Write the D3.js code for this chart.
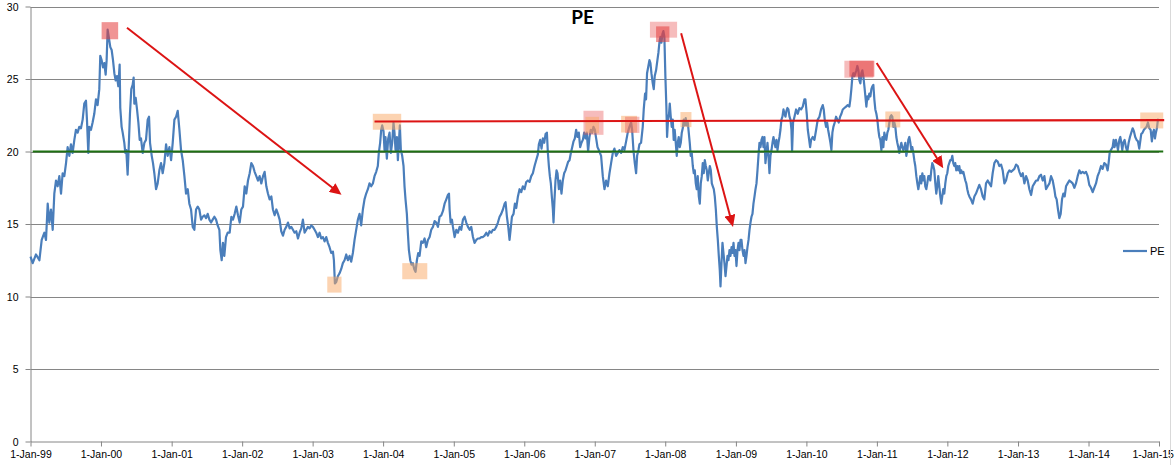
<!DOCTYPE html>
<html><head><meta charset="utf-8">
<script src="https://cdn.jsdelivr.net/npm/d3@7/dist/d3.min.js"></script>
<style>
html,body{margin:0;padding:0;background:#fff;}
svg{display:block;}
.axis text{font-family:"Liberation Sans",Arial,sans-serif;font-size:10.5px;fill:#000;}
</style></head>
<body>
<svg id="chart" width="1175" height="465"></svg>
<script>
// ---------- DATA ----------
const baseYear = 1999;
const chartTitle = "PE";
const seriesName = "PE";
const yTicks = [0, 5, 10, 15, 20, 25, 30];
const tickYears = [1999,2000,2001,2002,2003,2004,2005,2006,2007,2008,2009,2010,2011,2012,2013,2014,2015];
// [years since 1-Jan-1999, PE]
const peSeries = [
[0.000,12.75],[0.031,12.3],[0.078,12.9],[0.126,12.5],[0.159,13.9],[0.197,14.4],[0.220,13.9],[0.244,16.4],[0.267,15.1],[0.291,16.0],
[0.315,14.6],[0.338,17.1],[0.362,18.0],[0.385,17.6],[0.409,18.3],[0.433,17.1],[0.456,18.5],[0.480,18.3],[0.504,19.2],[0.527,20.3],
[0.551,19.7],[0.574,20.5],[0.598,19.9],[0.622,20.8],[0.645,21.5],[0.669,21.3],[0.692,21.7],[0.716,21.6],[0.740,22.2],[0.763,23.3],
[0.787,23.5],[0.801,22.2],[0.820,19.9],[0.834,21.7],[0.858,21.5],[0.881,22.0],[0.905,22.6],[0.929,23.6],[0.952,23.2],[0.976,24.3],
[0.990,26.6],[1.009,26.3],[1.028,25.8],[1.047,26.1],[1.066,25.3],[1.080,26.3],[1.094,28.4],[1.113,27.8],[1.132,27.2],[1.151,27.0],
[1.170,26.3],[1.189,25.4],[1.208,24.9],[1.226,25.2],[1.245,24.5],[1.264,26.0],[1.273,23.0],[1.292,21.7],[1.307,21.3],[1.330,20.6],
[1.344,19.9],[1.358,20.1],[1.377,18.4],[1.391,20.1],[1.410,22.6],[1.429,24.3],[1.448,24.6],[1.462,25.1],[1.472,23.3],[1.491,23.7],
[1.510,22.9],[1.529,22.0],[1.548,20.8],[1.566,20.9],[1.590,19.9],[1.614,20.6],[1.637,20.8],[1.661,22.2],[1.680,22.4],[1.694,20.6],
[1.718,19.7],[1.736,19.2],[1.755,18.5],[1.779,17.4],[1.802,17.8],[1.826,18.7],[1.850,19.2],[1.873,18.5],[1.897,19.2],[1.921,20.5],
[1.944,19.7],[1.968,20.3],[1.992,19.4],[2.015,20.6],[2.039,22.2],[2.063,22.4],[2.086,22.8],[2.110,21.5],[2.133,20.1],[2.157,19.4],
[2.181,18.3],[2.204,17.1],[2.228,17.4],[2.251,16.4],[2.275,16.0],[2.299,14.8],[2.322,14.6],[2.346,16.0],[2.370,16.2],[2.393,16.0],
[2.417,15.3],[2.440,15.5],[2.464,15.6],[2.488,15.4],[2.511,15.7],[2.535,15.3],[2.559,15.1],[2.582,15.3],[2.606,15.5],[2.630,15.3],
[2.653,14.9],[2.677,14.6],[2.691,13.2],[2.710,12.5],[2.728,13.7],[2.747,12.8],[2.771,14.1],[2.795,14.4],
[2.823,14.4],[2.847,15.5],[2.870,15.3],[2.894,15.7],[2.918,16.2],[2.941,15.6],[2.965,15.1],[2.988,16.0],[3.012,16.2],[3.036,17.6],
[3.059,17.1],[3.083,18.0],[3.107,18.5],[3.130,19.2],[3.154,19.0],[3.177,18.6],[3.201,18.3],[3.225,18.0],[3.248,18.3],[3.272,17.8],
[3.296,18.3],[3.319,18.6],[3.343,17.6],[3.366,17.1],[3.390,16.7],[3.414,16.9],[3.437,16.0],[3.461,15.6],[3.485,16.0],[3.508,15.7],
[3.532,15.3],[3.555,14.5],[3.579,14.2],[3.603,14.6],[3.626,14.8],[3.650,15.1],[3.674,14.7],[3.697,14.8],[3.721,14.6],[3.744,14.4],
[3.768,14.5],[3.792,14.0],[3.815,14.4],[3.839,14.7],[3.862,15.3],[3.886,14.4],[3.910,14.6],[3.933,14.8],[3.957,14.7],[3.981,14.9],
[4.004,14.8],[4.028,14.6],[4.051,14.4],[4.075,14.1],[4.099,14.4],[4.122,14.0],[4.146,14.1],[4.170,13.8],[4.193,14.1],[4.217,13.7],
[4.240,13.4],[4.264,13.0],[4.288,13.1],[4.302,12.5],[4.316,10.9],[4.335,11.0],[4.358,11.4],[4.382,11.6],[4.406,11.9],[4.429,12.3],
[4.453,12.5],[4.477,12.9],[4.500,12.5],[4.524,12.8],[4.547,12.4],[4.571,13.0],[4.595,13.9],[4.618,14.6],[4.642,15.3],[4.666,15.7],
[4.689,14.9],[4.713,16.0],[4.736,16.7],[4.760,17.1],[4.784,17.4],[4.807,17.8],[4.831,17.6],[4.855,17.8],[4.878,18.3],[4.902,18.6],
[4.925,19.0],[4.939,19.9],[4.958,20.6],[4.973,21.5],[4.987,21.8],[5.006,21.4],[5.020,20.1],[5.034,21.0],[5.053,19.5],[5.072,20.9],
[5.091,21.3],[5.110,19.9],[5.128,20.6],[5.147,22.0],[5.161,21.3],[5.176,20.1],[5.195,21.0],[5.209,19.4],[5.223,20.6],[5.237,21.8],
[5.251,20.1],[5.270,19.7],[5.289,19.0],[5.303,17.6],[5.317,16.7],[5.336,15.7],[5.350,14.4],[5.365,13.2],[5.384,12.5],[5.402,12.2],
[5.421,12.3],[5.440,11.9],[5.459,11.7],[5.478,12.5],[5.497,13.0],[5.516,12.8],
[5.540,13.8],[5.563,13.7],[5.587,14.0],[5.610,13.4],[5.634,13.9],[5.658,14.1],[5.681,14.6],[5.705,14.8],[5.729,15.2],[5.752,15.1],
[5.776,14.8],[5.799,15.5],[5.823,15.6],[5.847,15.9],[5.870,16.4],[5.894,16.7],[5.917,17.0],[5.932,17.1],[5.941,16.0],[5.955,15.1],
[5.974,15.3],[5.988,14.8],[6.012,14.1],[6.036,14.6],[6.059,14.4],[6.083,14.8],[6.106,14.6],[6.130,15.3],[6.154,15.5],[6.177,15.1],
[6.201,14.8],[6.225,14.6],[6.248,14.8],[6.272,14.1],[6.295,13.7],[6.319,13.9],[6.343,14.0],[6.366,14.0],[6.390,14.1],[6.414,14.1],
[6.437,14.2],[6.461,14.4],[6.484,14.2],[6.508,14.5],[6.532,14.4],[6.555,14.6],[6.579,14.6],[6.602,14.8],[6.626,15.1],[6.650,15.5],
[6.673,15.7],[6.697,16.0],[6.721,16.4],[6.735,16.5],[6.754,15.5],[6.773,14.8],[6.791,13.9],[6.806,14.6],[6.825,15.5],[6.848,15.7],
[6.867,16.4],[6.886,16.1],[6.910,16.9],[6.933,17.4],[6.957,17.2],[6.980,17.6],[7.004,17.4],[7.028,17.9],[7.051,18.0],[7.075,17.9],
[7.099,18.3],[7.122,18.5],[7.146,19.0],[7.169,19.4],[7.193,19.8],[7.207,20.5],[7.226,20.8],[7.245,20.2],[7.264,20.9],[7.283,20.6],
[7.302,21.2],[7.321,21.3],[7.335,19.9],[7.349,19.0],[7.363,18.3],[7.377,17.8],[7.391,16.9],[7.406,16.0],[7.415,15.1],[7.429,16.7],
[7.443,18.0],[7.458,18.7],[7.472,18.5],[7.491,17.4],[7.509,18.0],[7.528,17.1],[7.547,18.0],[7.566,18.5],[7.585,18.7],[7.604,19.0],
[7.623,19.3],[7.642,19.4],[7.661,19.9],[7.680,20.3],[7.699,20.7],[7.717,20.9],[7.736,21.5],[7.755,21.0],[7.774,21.3],[7.793,20.3],
[7.812,20.6],[7.831,20.8],[7.850,21.3],[7.869,20.9],[7.887,21.3],[7.906,20.0],[7.925,21.0],[7.944,21.5],[7.963,21.3],[7.982,21.7],
[8.001,21.5],[8.020,20.9],[8.039,20.3],[8.058,20.1],
[8.090,19.7],[8.114,18.3],[8.138,17.4],[8.161,18.0],[8.185,17.6],[8.209,18.5],[8.232,19.2],[8.256,19.9],[8.279,20.2],[8.303,19.7],
[8.327,19.9],[8.350,20.1],[8.374,19.9],[8.398,20.3],[8.421,20.1],[8.445,20.7],[8.468,21.3],[8.492,21.7],[8.516,22.0],[8.530,21.5],
[8.549,20.1],[8.568,19.2],[8.587,18.5],[8.601,19.7],[8.620,20.1],[8.634,20.5],[8.657,20.6],[8.681,21.7],[8.695,22.9],[8.714,24.0],
[8.728,23.6],[8.742,25.4],[8.761,25.9],[8.776,26.3],[8.790,26.1],[8.804,25.4],[8.823,24.7],[8.837,24.3],[8.851,25.2],[8.870,25.6],
[8.889,26.3],[8.903,26.8],[8.917,27.5],[8.931,27.9],[8.946,27.5],[8.960,28.1],[8.974,28.3],[8.988,27.9],[9.002,25.2],[9.016,23.1],
[9.026,21.0],[9.040,22.2],[9.054,22.6],[9.064,23.3],[9.078,22.4],[9.092,21.7],[9.106,22.2],[9.120,20.8],[9.134,21.5],[9.149,20.6],
[9.163,19.7],[9.177,20.6],[9.191,21.0],[9.205,20.3],[9.220,20.6],[9.234,21.3],[9.248,21.6],[9.262,22.2],[9.276,21.8],[9.290,22.3],
[9.305,21.8],[9.319,22.0],[9.333,21.3],[9.347,20.6],[9.361,19.7],[9.375,19.9],[9.390,19.0],[9.404,18.5],[9.418,18.7],[9.432,17.8],
[9.446,17.4],[9.460,18.3],[9.475,16.9],[9.489,16.4],[9.503,17.8],[9.517,18.3],[9.531,19.2],[9.545,18.5],[9.560,19.4],[9.574,19.0],
[9.588,18.7],[9.602,18.0],[9.616,18.5],[9.631,19.0],[9.645,18.7],[9.659,17.8],[9.673,17.6],[9.687,17.4],[9.701,16.9],[9.716,16.0],
[9.730,14.8],[9.744,13.9],[9.758,12.8],[9.772,11.8],[9.782,10.7],[9.796,12.3],[9.810,13.7],[9.824,13.0],[9.838,12.3],[9.853,11.4],
[9.867,12.1],[9.881,12.8],[9.895,12.5],[9.909,13.2],[9.923,12.8],[9.938,13.4],[9.952,13.0],[9.966,13.7],[9.980,12.8],[9.994,13.2],
[10.008,12.1],[10.023,13.2],[10.037,13.7],[10.051,13.2],[10.065,13.9],[10.079,13.9],[10.093,13.2],[10.108,12.8],[10.122,13.2],[10.136,12.3],
[10.150,12.8],[10.164,13.4],[10.179,13.9],[10.193,14.6],[10.207,15.1],[10.221,15.5],[10.235,15.7],[10.249,16.4],[10.264,16.9],[10.278,17.4],
[10.292,17.8],[10.306,18.7],[10.320,19.7],[10.334,20.6],[10.349,20.3],[10.363,20.8],[10.377,21.0],[10.391,20.3],[10.405,21.0],[10.419,19.2],
[10.434,19.9],[10.448,20.6],[10.462,19.7],[10.476,18.5],[10.490,19.7],[10.505,20.1],[10.519,20.6],[10.533,21.0],[10.547,20.6],[10.561,20.3],
[10.575,20.8],[10.590,20.1],[10.604,20.6],[10.618,21.0],[10.632,21.5],[10.646,22.2],[10.660,22.4],[10.675,22.9],[10.689,22.6],[10.703,22.4],
[10.717,22.8],[10.731,23.0],[10.745,22.9],[10.760,22.4],[10.774,22.2],[10.788,21.5],[10.797,20.0],[10.811,22.0],
[10.831,22.4],[10.854,22.9],[10.878,22.6],[10.901,23.0],[10.925,22.9],[10.949,23.1],[10.972,23.6],[10.986,23.6],[11.005,22.6],[11.020,21.5],
[11.034,21.0],[11.053,20.3],[11.067,20.8],[11.090,21.0],[11.114,20.8],[11.138,21.5],[11.161,22.2],[11.185,22.4],[11.208,22.9],[11.232,23.2],
[11.246,22.9],[11.260,22.2],[11.279,21.7],[11.294,22.0],[11.308,21.5],[11.327,21.0],[11.341,20.6],[11.355,20.1],[11.369,21.3],[11.383,21.7],
[11.402,22.0],[11.421,22.4],[11.440,22.2],[11.459,22.0],[11.478,22.4],[11.497,22.6],[11.516,22.9],[11.539,23.0],[11.563,23.1],[11.586,23.2],
[11.610,23.1],[11.624,23.6],[11.638,24.3],[11.653,25.2],[11.667,25.4],[11.681,25.2],[11.695,25.4],[11.709,25.6],[11.723,25.9],[11.738,25.6],
[11.752,24.9],[11.766,24.7],[11.780,25.4],[11.794,25.6],[11.808,25.2],[11.823,24.5],[11.837,23.8],[11.851,23.1],[11.865,23.8],[11.879,23.6],
[11.893,24.0],[11.908,23.8],[11.922,24.3],[11.936,24.5],[11.950,24.6],[11.964,23.6],[11.978,22.9],[11.993,22.6],[12.007,22.2],[12.021,21.5],
[12.035,21.0],[12.049,20.8],[12.064,20.1],[12.078,21.0],[12.092,20.3],[12.106,21.3],[12.120,21.0],[12.134,20.8],[12.149,21.3],[12.163,21.5],
[12.177,22.0],[12.191,22.4],[12.205,22.5],[12.219,22.4],[12.234,21.7],[12.248,22.0],[12.262,21.7],[12.276,21.0],[12.290,20.6],[12.304,20.3],
[12.319,19.9],[12.333,20.3],[12.347,20.6],[12.361,20.3],[12.375,20.1],[12.390,20.3],[12.404,20.6],[12.418,19.7],[12.432,20.1],[12.446,20.8],
[12.460,21.0],[12.475,20.6],[12.489,20.1],[12.503,20.3],[12.517,19.9],[12.531,19.4],[12.545,19.0],[12.560,18.3],[12.574,17.8],[12.588,17.4],
[12.602,17.8],[12.616,18.3],[12.630,17.8],[12.645,18.5],[12.659,18.0],[12.673,18.3],[12.687,17.6],[12.701,17.4],[12.715,17.8],[12.730,18.3],
[12.744,18.3],[12.758,18.0],[12.772,18.7],[12.786,19.2],[12.801,19.0],[12.815,18.7],[12.829,17.8],[12.843,17.1],[12.857,17.6],[12.871,18.3],
[12.886,17.6],[12.900,16.9],[12.914,16.4],[12.928,16.9],[12.942,17.4],[12.956,17.1],[12.971,17.8],[12.985,18.3],[12.999,18.5],[13.013,19.0],
[13.027,19.2],[13.041,19.4],[13.056,19.4],[13.070,19.7],[13.084,19.2],[13.098,19.0],[13.112,19.2],[13.126,18.7],[13.141,19.0],[13.155,18.7],
[13.169,19.0],[13.183,18.5],[13.197,18.7],[13.211,18.5],[13.226,18.6],[13.240,18.3],[13.254,18.0],[13.268,17.8],[13.282,17.4],[13.296,17.1],
[13.311,16.9],
[13.334,16.7],[13.358,16.4],[13.382,16.9],[13.405,17.1],[13.429,17.4],[13.452,17.7],[13.476,17.4],[13.500,16.9],[13.523,16.7],[13.547,17.8],
[13.571,18.0],[13.594,17.8],[13.618,17.6],[13.641,18.5],[13.665,19.2],[13.689,19.4],[13.712,19.3],[13.736,19.0],[13.760,19.1],[13.783,18.7],
[13.807,17.8],[13.830,18.0],[13.854,18.5],[13.878,18.7],[13.901,18.6],[13.925,18.7],[13.948,18.8],[13.972,19.1],[13.996,19.0],[14.019,18.6],
[14.043,18.3],[14.067,18.5],[14.090,17.8],[14.114,18.3],[14.137,18.0],[14.161,17.4],[14.185,17.0],[14.208,17.6],[14.232,17.8],[14.256,18.0],
[14.279,18.0],[14.303,18.3],[14.326,18.4],[14.350,18.0],[14.374,18.3],[14.397,17.4],[14.421,17.6],[14.445,17.8],[14.468,18.3],[14.492,18.0],
[14.515,17.4],[14.530,16.9],[14.548,16.7],[14.567,16.0],[14.586,15.4],[14.605,15.7],[14.624,16.7],[14.643,17.1],[14.662,16.9],[14.681,17.6],
[14.704,17.8],[14.728,18.0],[14.752,17.9],[14.775,17.8],[14.799,17.5],[14.822,17.8],[14.846,18.3],[14.870,18.7],[14.893,18.5],[14.917,18.6],
[14.940,18.5],[14.964,18.6],[14.988,18.3],[15.011,17.7],[15.035,17.5],[15.059,17.2],[15.082,17.5],[15.106,17.8],[15.129,18.3],[15.153,18.6],
[15.177,19.0],[15.200,18.8],[15.224,19.2],[15.248,19.1],[15.271,18.7],[15.285,19.2],[15.300,19.9],[15.318,20.1],[15.342,20.3],[15.356,20.8],
[15.370,20.3],[15.389,20.8],[15.403,20.5],[15.418,20.1],[15.437,20.8],[15.451,21.0],[15.465,20.6],[15.479,20.1],[15.493,20.6],[15.512,20.8],
[15.531,20.3],[15.550,20.0],[15.569,20.6],[15.588,21.0],[15.607,21.3],[15.626,21.6],[15.644,21.4],[15.663,21.0],[15.682,20.8],[15.701,20.7],
[15.720,20.2],[15.734,20.7],[15.748,21.2],[15.767,21.3],[15.786,21.5],[15.805,21.6],[15.824,21.7],[15.843,22.0],[15.862,21.6],[15.881,21.5],
[15.899,20.7],[15.914,21.3],[15.928,21.5],[15.942,20.9],[15.956,21.3],[15.970,21.6],[15.985,22.2],[15.994,22.1]
];
// annotation lines: [years since 1999, value]
const levelLines = [
  {kind:"green", from:[0.031,20.0], to:[16.06,20.0]},
  {kind:"red",   from:[4.878,22.07], to:[16.074,22.17]}
];
const arrows = [
  {from:[1.368,28.54], to:[4.410,17.01]},
  {from:[9.225,28.16], to:[9.959,14.80]},
  {from:[11.997,26.10], to:[12.942,18.85]}
];
// highlight boxes: [x0, x1] years since 1999, [vTop, vBottom]
const boxes = [
  {kind:"red",    x:[1.009,1.243], v:[28.92,27.74]},
  {kind:"orange", x:[4.854,5.256], v:[22.60,21.50]},
  {kind:"orange", x:[4.208,4.410], v:[11.37,10.27]},
  {kind:"orange", x:[5.271,5.625], v:[12.30,11.19]},
  {kind:"pink",   x:[7.840,8.124], v:[22.81,21.15]},
  {kind:"orange", x:[7.868,8.060], v:[22.39,21.26]},
  {kind:"orange", x:[8.374,8.600], v:[22.46,21.31]},
  {kind:"pink",   x:[8.430,8.634], v:[22.40,21.28]},
  {kind:"orange", x:[9.215,9.371], v:[22.72,21.68]},
  {kind:"pink",   x:[8.783,9.168], v:[28.95,27.85]},
  {kind:"red",    x:[8.870,9.059], v:[28.63,27.55]},
  {kind:"pink",   x:[11.539,11.950], v:[26.26,25.09]},
  {kind:"red",    x:[11.610,11.964], v:[26.26,25.16]},
  {kind:"orange", x:[12.120,12.332], v:[22.76,21.66]},
  {kind:"orange", x:[15.734,16.060], v:[22.69,21.59]}
];

// ---------- HELPERS ----------
function toDate(off) {
  const yi = Math.floor(off), f = off - yi;
  const a = Date.UTC(baseYear + yi, 0, 1), b = Date.UTC(baseYear + yi + 1, 0, 1);
  return new Date(a + f * (b - a));
}

// ---------- DRAW ----------
const svg = d3.select("#chart");
const W = 1175, H = 465;
svg.append("rect").attr("width", W).attr("height", H).attr("fill", "#fff");

const x = d3.scaleUtc()
  .domain([new Date(Date.UTC(tickYears[0],0,1)), new Date(Date.UTC(tickYears[tickYears.length-1],0,1))])
  .range([30.5, 1159]);
const y = d3.scaleLinear().domain([0, 30]).range([441.5, 6.5]);

const gridColor = "#868686";

// gridlines
svg.append("g").selectAll("line").data(yTicks.filter(d => d > 0)).join("line")
  .attr("x1", x.range()[0]).attr("x2", x.range()[1])
  .attr("y1", d => Math.round(y(d)) + 0.5).attr("y2", d => Math.round(y(d)) + 0.5)
  .attr("stroke", gridColor).attr("stroke-width", 1);

// y axis
const yAxis = d3.axisLeft(y).tickValues(yTicks).tickSizeInner(5).tickSizeOuter(0).tickPadding(7).tickFormat(d3.format("d"));
const gy = svg.append("g").attr("class", "axis").attr("transform", "translate(30.5,0)").call(yAxis);
gy.selectAll("path,line").attr("stroke", gridColor);
gy.selectAll("text").attr("dy", "0.35em");

// x axis
const xTickDates = tickYears.map(yr => new Date(Date.UTC(yr, 0, 1)));
const xAxis = d3.axisBottom(x).tickValues(xTickDates).tickSizeInner(5).tickSizeOuter(0).tickPadding(4)
  .tickFormat(d3.utcFormat("%-d-%b-%y"));
const gx = svg.append("g").attr("class", "axis").attr("transform", "translate(0,441.5)").call(xAxis);
gx.selectAll("path,line").attr("stroke", gridColor);
// keep the last label inside the picture
gx.selectAll(".tick text").each(function() {
  const bb = this.getBBox();
  const tx = +this.parentNode.getAttribute("transform").match(/translate\(([-\d.]+)/)[1];
  const right = tx + bb.x + bb.width;
  if (right > W - 1) d3.select(this).attr("x", (W - 1) - right);
});

// series line
const line = d3.line().x(d => x(toDate(d[0]))).y(d => y(d[1]));
svg.append("path").datum(peSeries)
  .attr("d", line).attr("fill", "none")
  .attr("stroke", "#4a7ebb").attr("stroke-width", 2.2).attr("stroke-linejoin", "round");

// highlight boxes
const boxFill = {orange:"rgba(250,168,100,0.5)", red:"rgba(228,60,60,0.55)", pink:"rgba(232,80,80,0.38)"};
svg.append("g").selectAll("rect").data(boxes).join("rect")
  .attr("x", d => x(toDate(d.x[0]))).attr("width", d => x(toDate(d.x[1])) - x(toDate(d.x[0])))
  .attr("y", d => y(d.v[0])).attr("height", d => y(d.v[1]) - y(d.v[0]))
  .attr("fill", d => boxFill[d.kind]);

// level lines
const lineColor = {green:"#1e7012", red:"#dc1414"};
svg.append("g").selectAll("line").data(levelLines).join("line")
  .attr("x1", d => x(toDate(d.from[0]))).attr("y1", d => y(d.from[1]))
  .attr("x2", d => x(toDate(d.to[0]))).attr("y2", d => y(d.to[1]))
  .attr("stroke", d => lineColor[d.kind]).attr("stroke-width", 2.2);

// arrows
const defs = svg.append("defs");
defs.append("marker").attr("id", "arrowhead")
  .attr("markerUnits", "userSpaceOnUse").attr("markerWidth", 12).attr("markerHeight", 11)
  .attr("refX", 3).attr("refY", 5.5).attr("orient", "auto")
  .append("path").attr("d", "M0,0 L12,5.5 L0,11 Z").attr("fill", "#dc1414");
svg.append("g").selectAll("line").data(arrows).join("line")
  .each(function(d) {
    const x1 = x(toDate(d.from[0])), y1 = y(d.from[1]);
    const x2 = x(toDate(d.to[0])), y2 = y(d.to[1]);
    const len = Math.hypot(x2 - x1, y2 - y1);
    const ux = (x2 - x1) / len, uy = (y2 - y1) / len;
    d3.select(this).attr("x1", x1).attr("y1", y1)
      .attr("x2", x2 - ux * 9).attr("y2", y2 - uy * 9);
  })
  .attr("stroke", "#dc1414").attr("stroke-width", 2)
  .attr("marker-end", "url(#arrowhead)");

// title
svg.append("text").attr("x", 582.5).attr("y", 24).attr("text-anchor", "middle")
  .attr("font-family", "Lato, 'Liberation Sans', sans-serif").attr("font-weight", 700).attr("font-size", 19)
  .attr("fill", "#000").text(chartTitle);

// legend
svg.append("line").attr("x1", 1123).attr("x2", 1147).attr("y1", 251).attr("y2", 251)
  .attr("stroke", "#4a7ebb").attr("stroke-width", 2.2);
svg.append("text").attr("x", 1150).attr("y", 251).attr("dy", "0.35em")
  .attr("font-family", "'Liberation Sans', Arial, sans-serif").attr("font-size", 11)
  .attr("fill", "#000").text(seriesName);

// chart border at right
svg.append("line").attr("x1", 1170.5).attr("x2", 1170.5).attr("y1", 0).attr("y2", H)
  .attr("stroke", "#d9d9d9").attr("stroke-width", 1);
</script>
</body></html>
